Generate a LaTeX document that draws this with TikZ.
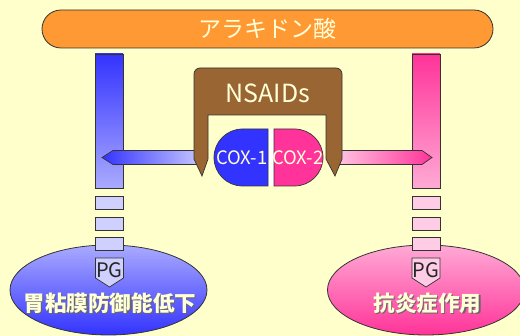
\documentclass[tikz,border=0pt]{standalone}
\usepackage{fontspec}
\setmainfont{Noto Sans CJK JP}
\usetikzlibrary{shapes.geometric}
\definecolor{bg}{HTML}{FFFFCC}
\definecolor{orng}{HTML}{FF9933}
\definecolor{brwn}{HTML}{996633}
\definecolor{bdark}{HTML}{3333FF}
\definecolor{blight}{HTML}{AAAAFF}
\definecolor{bpale}{HTML}{D0D0FF}
\definecolor{pdark}{HTML}{FF3399}
\definecolor{plight}{HTML}{FFAAD5}
\definecolor{ppale}{HTML}{FFCCE6}
\definecolor{edge}{HTML}{333333}
\definecolor{ltext}{HTML}{FFFFD8}
\tikzset{
  bar/.style={draw=edge, line width=0.7pt, minimum width=28pt, minimum height=134pt, inner sep=0pt},
  sq/.style={draw=edge, line width=0.7pt, minimum width=28pt, minimum height=13pt, inner sep=0pt},
  ell/.style={ellipse, draw=edge, line width=0.8pt, minimum width=197pt, minimum height=90pt, inner sep=0pt},
  pgshape/.style={draw=edge, line width=0.7pt},
  pgtext/.style={text=black!85, font=\fontsize{20}{20}\selectfont, inner sep=0pt},
  bigtext/.style={font=\bfseries\fontsize{21.6}{22}\selectfont, inner sep=0pt},
  coxtext/.style={text=ltext, font=\fontsize{18.5}{19}\selectfont, inner sep=0pt},
}
\begin{document}
\begin{tikzpicture}[x=1pt,y=-1pt]
\useasboundingbox (0,0) rectangle (520,336);
\clip (0,0) rectangle (520,336);
\fill[bg] (0,0) rectangle (520,336);
% top bar
\node[draw=edge, line width=0.8pt, fill=orng, rounded corners=19pt, minimum width=451pt, minimum height=38pt, text=ltext, font=\fontsize{23}{23}\selectfont] (aa) at (267.5,29) {アラキドン酸};
% vertical bars
\node[bar, top color=bdark, bottom color=blight] (lbar) at (109,121) {};
\node[bar, top color=pdark, bottom color=plight] (rbar) at (426,121) {};
% ellipses
\node[ell, top color=blight, bottom color=bdark] (lell) at (108.5,290) {};
\node[ell, top color=plight, bottom color=pdark] (rell) at (426,290) {};
% squares
\node[sq, fill=bpale] (ls1) at (109,202.5) {};
\node[sq, fill=bpale] (ls2) at (109,223.5) {};
\node[sq, fill=bpale] (ls3) at (109,243.5) {};
\node[sq, fill=ppale] (rs1) at (426,202.5) {};
\node[sq, fill=ppale] (rs2) at (426,223.5) {};
\node[sq, fill=ppale] (rs3) at (426,243.5) {};
% PG pentagons
\draw[pgshape, fill=bpale] (95.5,258) -- (123.5,258) -- (123.5,278) -- (109.5,287) -- (95.5,278) -- cycle;
\node[pgtext] (lpg) at (109.5,270) {PG};
\draw[pgshape, fill=ppale] (412,258) -- (440,258) -- (440,278) -- (426,287) -- (412,278) -- cycle;
\node[pgtext] (rpg) at (426,270) {PG};
% bottom texts with shadow
\node[bigtext, text=black!60] at (111.2,304.2) {胃粘膜防御能低下};
\node[bigtext, text=ltext] (lt) at (110,303) {胃粘膜防御能低下};
\node[bigtext, text=black!60] at (428.7,304.2) {抗炎症作用};
\node[bigtext, text=ltext] (rt) at (427.5,303) {抗炎症作用};
% arrows
\path[draw=edge, line width=0.7pt, left color=bdark, right color=blight!70!white]
  (102,157.5) -- (113,150.5) -- (198,150.5) -- (198,164.5) -- (113,164.5) -- cycle;
\path[draw=edge, line width=0.7pt, left color=plight!70!white, right color=pdark]
  (338,150.5) -- (422,150.5) -- (432,157.5) -- (422,164.5) -- (338,164.5) -- cycle;
% NSAIDs shape
\draw[draw=edge, line width=0.7pt, fill=brwn]
  (194,159) [rounded corners=6pt] -- (194,68) -- (342,68) [sharp corners] -- (342,159) -- (335,176) -- (326,159)
  -- (326,115) -- (208,115) -- (208,159) -- (202,176) -- cycle;
\node[text=ltext, font=\fontsize{25}{25}\selectfont, inner sep=0pt] (ns) at (268,93) {NSAIDs};
% COX pill
\fill[white] (267,129) rectangle (275,186);
\draw[draw=edge, line width=0.7pt, fill=bdark] (268,129) -- (242.5,129) arc[start angle=270, end angle=90, radius=28.5] -- (268,186) -- cycle;
\draw[draw=edge, line width=0.7pt, fill=pdark] (274,129) -- (294.5,129) arc[start angle=270, end angle=450, radius=28.5] -- (274,186) -- cycle;
\node[coxtext] (c1) at (241.7,157.5) {COX-1};
\node[coxtext] (c2) at (297.7,157.5) {COX-2};
\end{tikzpicture}
\end{document}
